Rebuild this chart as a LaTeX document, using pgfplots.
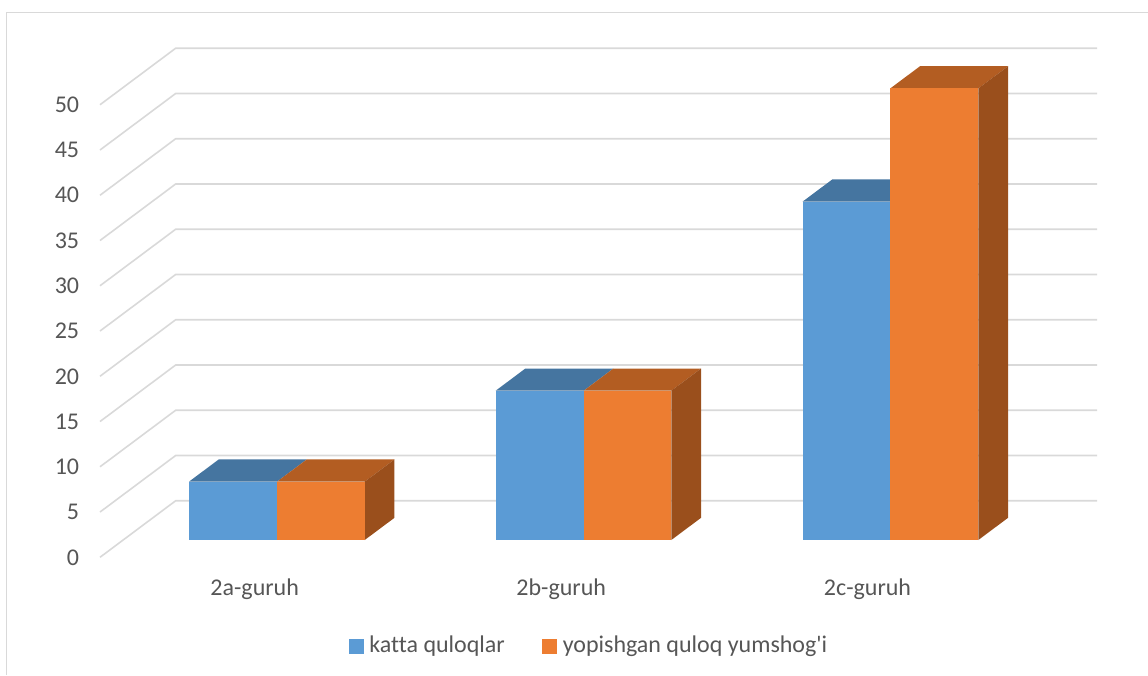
\documentclass[border=0pt]{standalone}
\usepackage{pgfplots}
\pgfplotsset{compat=1.18}
\usepackage{fontspec}
\setmainfont{Carlito}[Ligatures=NoCommon]
\definecolor{gridgray}{HTML}{D9D9D9}
\definecolor{labelgray}{HTML}{565656}
\definecolor{bluefront}{HTML}{5B9BD5}
\definecolor{bluetop}{HTML}{4575A0}
\definecolor{orangefront}{HTML}{ED7D31}
\definecolor{orangetop}{HTML}{B35D22}
\definecolor{orangeside}{HTML}{9A4F1C}
\newcommand{\chartfont}{\fontsize{24}{28}\selectfont}
\begin{document}
\begin{tikzpicture}
\useasboundingbox (-100pt,-117.7pt) rectangle (1048pt,557.3pt);
\begin{axis}[
  scale only axis, width=997pt, height=509pt,
  xmin=100, xmax=1097, ymin=-1.91, ymax=54.33,
  clip=false,
  axis line style={draw=none},
  tick style={draw=none},
  major tick length=0pt,
  xtick={254.7,561.2,867.5},
  xticklabels={2a-guruh,2b-guruh,2c-guruh},
  ytick={0,5,...,50},
  /pgf/number format/assume math mode=true,
  tick label style={font=\chartfont, text=labelgray, inner sep=0pt},
  xticklabel style={anchor=base, yshift=-37.7pt},
  yticklabel style={anchor=east, xshift=-20.7pt, yshift=-17.3pt},
  legend columns=2,
  legend style={
    at={(axis cs:349,-11.6)}, anchor=west, draw=none, fill=none,
    inner sep=0pt, outer sep=0pt, font=\chartfont, text=labelgray,
    /tikz/every even column/.append style={column sep=37.5pt},
    nodes={inner sep=0pt, anchor=base west},
  },
  legend cell align=left,
]
% Outer chart frame
\addplot[gridgray, line width=1.4pt, forget plot]
  coordinates {(6.5,-14.92) (6.5,58.29) (1148,58.29)};

% Gridlines running across the floor and up the back wall
\pgfplotsinvokeforeach{0,5,...,50}{
  \addplot[gridgray, line width=1.6pt, forget plot]
    coordinates {(100,#1-1.91) (175.7,#1+4.34) (1097,#1+4.34)};
}

% 2a-guruh
\addplot[fill=bluetop, draw=none, forget plot] coordinates {(189,6.45) (277,6.45) (306.7,8.9) (218.7,8.9)} --cycle;
\addplot[fill=bluefront, draw=none, forget plot] coordinates {(189,0) (277,0) (277,6.45) (189,6.45)} --cycle;
\addplot[fill=orangetop, draw=none, forget plot] coordinates {(277,6.45) (364.7,6.45) (394.4,8.9) (306.7,8.9)} --cycle;
\addplot[fill=orangeside, draw=none, forget plot] coordinates {(364.7,0) (394.4,2.45) (394.4,8.9) (364.7,6.45)} --cycle;
\addplot[fill=orangefront, draw=none, forget plot] coordinates {(277,0) (364.7,0) (364.7,6.45) (277,6.45)} --cycle;

% 2b-guruh
\addplot[fill=bluetop, draw=none, forget plot] coordinates {(495.7,16.5) (583.7,16.5) (613.4,18.95) (525.4,18.95)} --cycle;
\addplot[fill=bluefront, draw=none, forget plot] coordinates {(495.7,0) (583.7,0) (583.7,16.5) (495.7,16.5)} --cycle;
\addplot[fill=orangetop, draw=none, forget plot] coordinates {(583.7,16.5) (671.3,16.5) (701,18.95) (613.4,18.95)} --cycle;
\addplot[fill=orangeside, draw=none, forget plot] coordinates {(671.3,0) (701,2.45) (701,18.95) (671.3,16.5)} --cycle;
\addplot[fill=orangefront, draw=none, forget plot] coordinates {(583.7,0) (671.3,0) (671.3,16.5) (583.7,16.5)} --cycle;

% 2c-guruh
\addplot[fill=bluetop, draw=none, forget plot] coordinates {(802.7,37.4) (890.3,37.4) (920,39.85) (832.4,39.85)} --cycle;
\addplot[fill=bluefront, draw=none, forget plot] coordinates {(802.7,0) (890.3,0) (890.3,37.4) (802.7,37.4)} --cycle;
\addplot[fill=orangetop, draw=none, forget plot] coordinates {(890.3,49.9) (978.3,49.9) (1008,52.35) (920,52.35)} --cycle;
\addplot[fill=orangeside, draw=none, forget plot] coordinates {(978.3,0) (1008,2.45) (1008,52.35) (978.3,49.9)} --cycle;
\addplot[fill=orangefront, draw=none, forget plot] coordinates {(890.3,0) (978.3,0) (978.3,49.9) (890.3,49.9)} --cycle;

% Legend entries with square swatches and a fixed gap before the text
\addlegendimage{legend image code/.code={\fill[bluefront] (0pt,-1pt) rectangle (14pt,13pt);}}
\addlegendentry{\hspace*{6pt}katta quloqlar}
\addlegendimage{legend image code/.code={\fill[orangefront] (0pt,-1pt) rectangle (14pt,13pt);}}
\addlegendentry{\hspace*{6pt}yopishgan quloq yumshog\textquotesingle i}
\end{axis}
\end{tikzpicture}
\end{document}
